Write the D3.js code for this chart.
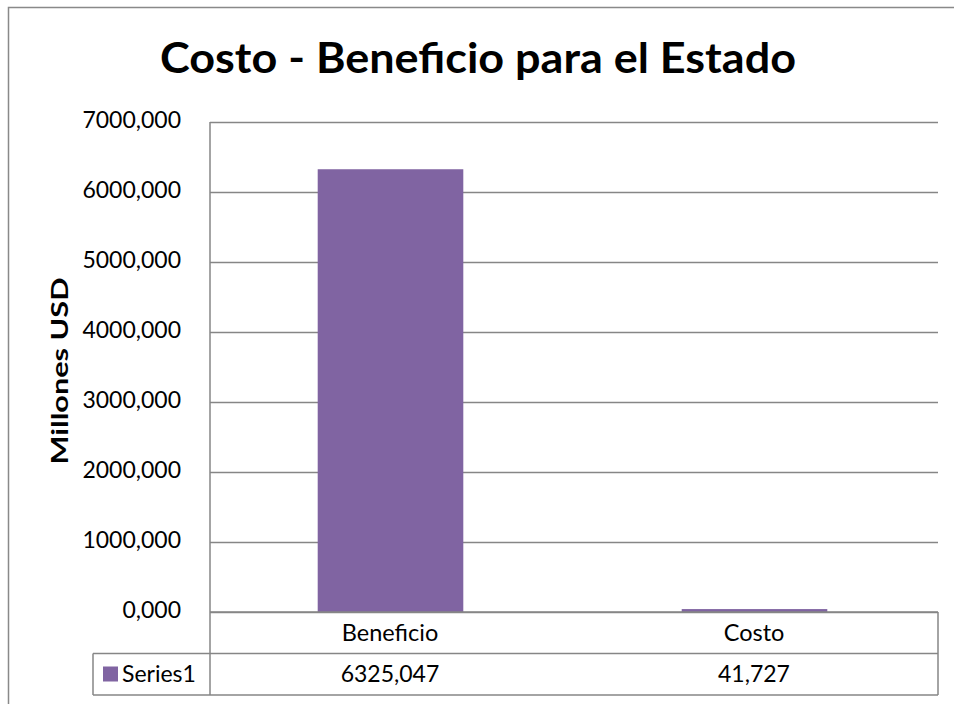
<!DOCTYPE html>
<html>
<head>
<meta charset="utf-8">
<script src="https://cdn.jsdelivr.net/npm/d3@7"></script>
<style>
  body { margin: 0; background: #fff; }
  svg { display: block; font-family: Lato, "Open Sans", sans-serif; }
</style>
</head>
<body>
<div id="wrap"></div>
<script>
const categories = ["Beneficio", "Costo"];
const values = [6325.047, 41.727];
const seriesName = "Series1";
const yTicks = [0, 1000, 2000, 3000, 4000, 5000, 6000, 7000];

const width = 954;
const height = 704;
const margin = { left: 210, right: 16, top: 122, bottom: 92 };
const plotBottom = height - margin.bottom;
const rowH = 41.5;
const grey = "#868686";

const locale = d3.formatLocale({ decimal: ",", thousands: ".", grouping: [3], currency: ["", ""] });
const fmt = locale.format(".3f");

const svg = d3.select("#wrap").append("svg")
    .attr("width", width)
    .attr("height", height);

// outer chart border
svg.append("path")
    .attr("d", `M8.5,${height} V7.5 H${width}`)
    .attr("fill", "none")
    .attr("stroke", "#898989")
    .attr("stroke-width", 1.5);

svg.append("text")
    .attr("x", 478)
    .attr("y", 73)
    .attr("text-anchor", "middle")
    .attr("font-size", 42)
    .attr("font-weight", "bold")
    .attr("textLength", 636)
    .attr("lengthAdjust", "spacingAndGlyphs")
    .text("Costo - Beneficio para el Estado");

const x = d3.scaleBand()
    .domain(categories)
    .range([margin.left, width - margin.right])
    .padding(0);

const y = d3.scaleLinear()
    .domain([0, 7000])
    .range([plotBottom, margin.top]);

// gridlines + labels
const yAxis = d3.axisLeft(y)
    .tickValues(yTicks)
    .tickSize(-(width - margin.right - margin.left))
    .tickPadding(29)
    .tickFormat(fmt);

const gy = svg.append("g")
    .attr("transform", `translate(${margin.left},0)`)
    .call(yAxis);
gy.select(".domain").remove();
gy.selectAll(".tick line").attr("stroke", grey).attr("stroke-width", 1.5);
gy.selectAll(".tick text")
    .attr("font-size", 23)
    .attr("font-family", "Lato, sans-serif")
    .attr("fill", "#000")
    .attr("dy", "0.25em");

// vertical axis line
svg.append("line")
    .attr("x1", margin.left).attr("x2", margin.left)
    .attr("y1", margin.top).attr("y2", plotBottom + rowH * 2)
    .attr("stroke", grey).attr("stroke-width", 1.5);

svg.append("text")
    .attr("transform", `translate(68,${(margin.top + plotBottom) / 2 + 4}) rotate(-90)`)
    .attr("text-anchor", "middle")
    .attr("font-size", 23)
    .attr("font-weight", "bold")
    .attr("textLength", 187)
    .attr("lengthAdjust", "spacingAndGlyphs")
    .text("Millones USD");

// bars
const barW = x.bandwidth() * 0.4;
svg.append("g").selectAll("rect")
    .data(values)
    .join("rect")
    .attr("x", (d, i) => x(categories[i]) + (x.bandwidth() - barW) / 2 - 1.5)
    .attr("width", barW)
    .attr("y", d => y(d))
    .attr("height", d => y(0) - y(d))
    .attr("fill", "#8064A2");

// data table
const table = svg.append("g");
const tLeft = 93;
const tRight = width - margin.right;
const rows = [plotBottom, plotBottom + rowH, plotBottom + rowH * 2];
table.selectAll("line.h")
    .data(rows)
    .join("line")
    .attr("x1", (d, i) => i === 0 ? margin.left : tLeft)
    .attr("x2", tRight)
    .attr("y1", d => d).attr("y2", d => d)
    .attr("stroke", grey).attr("stroke-width", 1.5);
table.append("line")
    .attr("x1", tRight).attr("x2", tRight)
    .attr("y1", rows[0]).attr("y2", rows[2])
    .attr("stroke", grey).attr("stroke-width", 1.5);
table.append("line")
    .attr("x1", tLeft).attr("x2", tLeft)
    .attr("y1", rows[1]).attr("y2", rows[2])
    .attr("stroke", grey).attr("stroke-width", 1.5);

table.selectAll("text.cat")
    .data(categories)
    .join("text")
    .attr("x", d => x(d) + x.bandwidth() / 2 - 2)
    .attr("y", rows[0] + rowH / 2 + 8)
    .attr("text-anchor", "middle")
    .attr("font-size", 23.5)
    .text(d => d);

table.selectAll("text.val")
    .data(values)
    .join("text")
    .attr("x", (d, i) => x(categories[i]) + x.bandwidth() / 2 - 2)
    .attr("y", rows[1] + rowH / 2 + 8)
    .attr("text-anchor", "middle")
    .attr("font-size", 23)
    .text(d => fmt(d));

table.append("rect")
    .attr("x", 103).attr("y", rows[1] + 13)
    .attr("width", 15).attr("height", 15)
    .attr("fill", "#8064A2");
table.append("text")
    .attr("x", 122)
    .attr("y", rows[1] + rowH / 2 + 8)
    .attr("font-size", 23)
    .text(seriesName);
</script>
</body>
</html>
